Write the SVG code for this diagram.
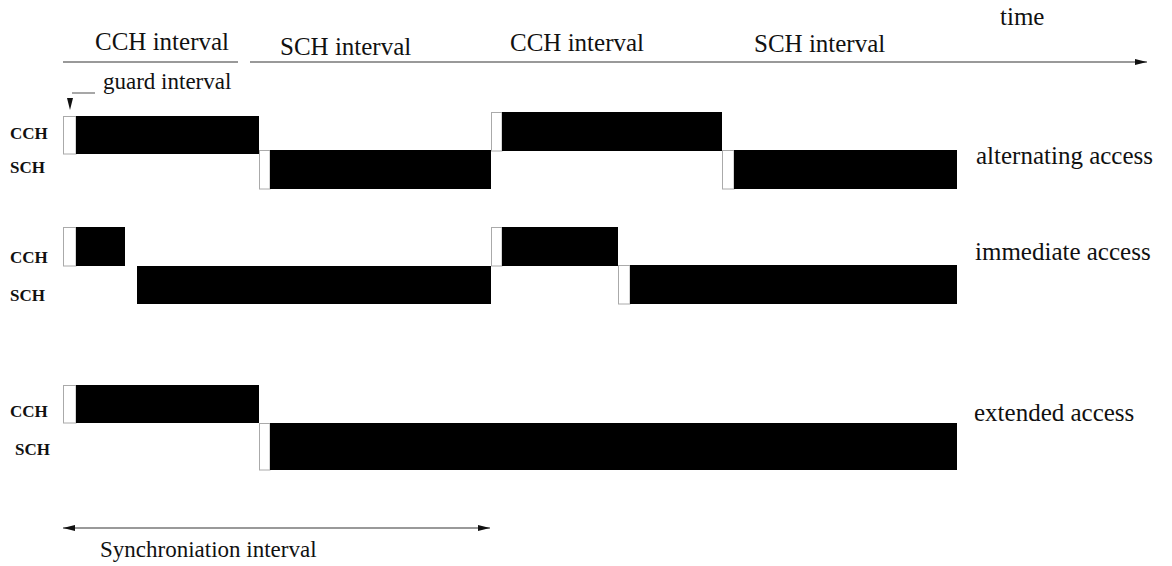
<svg xmlns="http://www.w3.org/2000/svg" width="1172" height="566" viewBox="0 0 1172 566">
<style>
.t{font-family:"Liberation Serif","Times New Roman",serif;fill:#111}
.big{font-size:25px}
.mid{font-size:23px}
.ch{font-size:17px;font-weight:bold}
.bar{fill:#000}
.gd{fill:none;stroke:#aaa;stroke-width:1}
.ln{stroke:#777;stroke-width:1.3;fill:none}
</style>
<defs>
<marker id="ah" viewBox="0 0 12 6" refX="12" refY="3" markerWidth="12" markerHeight="6" markerUnits="userSpaceOnUse" orient="auto-start-reverse">
<path d="M0,0 L12,3 L0,6 Z" fill="#111"/>
</marker>
</defs>
<rect width="1172" height="566" fill="#fff"/>

<g id="header">
<text class="t big" x="1000" y="25">time</text>
<text class="t big" x="95" y="50">CCH interval</text>
<text class="t big" x="280" y="55">SCH interval</text>
<text class="t big" x="510" y="51">CCH interval</text>
<text class="t big" x="754" y="52">SCH interval</text>
<text class="t mid" x="103" y="89">guard interval</text>
</g>

<g id="row-alternating">
<text class="t ch" x="10" y="139">CCH</text>
<text class="t ch" x="10" y="173">SCH</text>
<text class="t big" x="976" y="164">alternating access</text>
<g id="alt-cch1"><rect class="gd" x="63.5" y="116.5" width="12.5" height="37.5"/><rect class="bar" x="76" y="116" width="183" height="38"/></g>
<g id="alt-sch1"><rect class="gd" x="259.5" y="150.5" width="10.5" height="38.5"/><rect class="bar" x="270" y="150" width="221" height="39"/></g>
<g id="alt-cch2"><rect class="gd" x="491.5" y="112.5" width="10.5" height="38.5"/><rect class="bar" x="502" y="112" width="220" height="39"/></g>
<g id="alt-sch2"><rect class="gd" x="722.5" y="150.5" width="11.5" height="38.5"/><rect class="bar" x="734" y="150" width="223" height="39"/></g>
</g>

<g id="row-immediate">
<text class="t ch" x="10" y="263">CCH</text>
<text class="t ch" x="10" y="301">SCH</text>
<text class="t big" x="975" y="260">immediate access</text>
<g id="imm-cch1"><rect class="gd" x="63.5" y="227.5" width="12.5" height="38.5"/><rect class="bar" x="76" y="227" width="49" height="39"/></g>
<g id="imm-sch1"><rect class="bar" x="137" y="266" width="354" height="38"/></g>
<g id="imm-cch2"><rect class="gd" x="491.5" y="227.5" width="10.5" height="38.5"/><rect class="bar" x="502" y="227" width="116" height="39"/></g>
<g id="imm-sch2"><rect class="gd" x="618.5" y="265.5" width="11.5" height="38.5"/><rect class="bar" x="630" y="265" width="327" height="39"/></g>
</g>

<g id="row-extended">
<text class="t ch" x="10" y="417">CCH</text>
<text class="t ch" x="15" y="455">SCH</text>
<text class="t big" x="974" y="421">extended access</text>
<g id="ext-cch1"><rect class="gd" x="63.5" y="385.5" width="12.5" height="37.5"/><rect class="bar" x="76" y="385" width="183" height="38"/></g>
<g id="ext-sch1"><rect class="gd" x="259.5" y="423.5" width="10.5" height="46.5"/><rect class="bar" x="270" y="423" width="687" height="47"/></g>
</g>

<g id="sync-label">
<text class="t mid" x="100" y="557">Synchroniation interval</text>
</g>

<g id="connectors">
<line class="ln" x1="63" y1="62" x2="238" y2="62"/>
<line class="ln" x1="250" y1="62" x2="1147" y2="62" marker-end="url(#ah)"/>
<line class="ln" x1="63" y1="528" x2="490" y2="528" marker-start="url(#ah)" marker-end="url(#ah)"/>
<line class="ln" x1="95" y1="93" x2="72" y2="93"/>
<polygon points="67,98 73,98 70,110" fill="#111"/>
</g>
</svg>
